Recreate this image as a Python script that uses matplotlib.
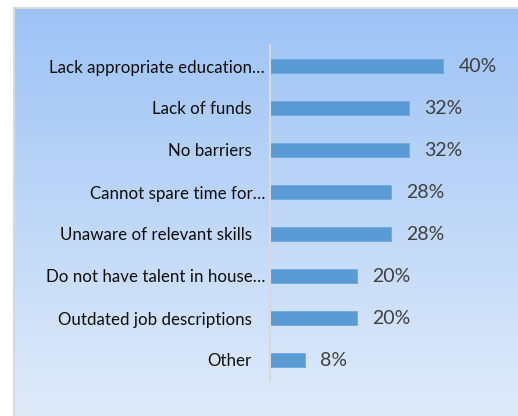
import numpy as np
import matplotlib
matplotlib.use("Agg")
import matplotlib.pyplot as plt
from matplotlib.colors import LinearSegmentedColormap
import matplotlib.transforms as mtransforms

categories = [
    "Lack appropriate education…",
    "Lack of funds",
    "No barriers",
    "Cannot spare time for…",
    "Unaware of relevant skills",
    "Do not have talent in house…",
    "Outdated job descriptions",
    "Other",
]
values = [40, 32, 32, 28, 28, 20, 20, 8]
value_labels = ["40%", "32%", "32%", "28%", "28%", "20%", "20%", "8%"]

W, H = 518, 416
fig = plt.figure(figsize=(W / 100, H / 100), dpi=100)
fig.patch.set_facecolor("white")

# gradient chart area background
bg = fig.add_axes([14 / W, 0, (W - 14) / W, (H - 8) / H])
cmap = LinearSegmentedColormap.from_list("bg", ["#9dc3f5", "#e0ebfa"])
grad = np.linspace(0, 1, 256).reshape(-1, 1)
bg.imshow(grad, aspect="auto", cmap=cmap, extent=[0, 1, 0, 1], origin="upper")
bg.set_xlim(0, 1)
bg.set_ylim(0, 1)
bg.set_xticks([])
bg.set_yticks([])
for s in ["right", "bottom"]:
    bg.spines[s].set_visible(False)
for s in ["left", "top"]:
    bg.spines[s].set_color("#d9d9d9")
    bg.spines[s].set_linewidth(1.5)

ax_left, ax_top, ax_bottom = 270, 45, 381
xmax = 50
px_per = 4.33
ax = fig.add_axes([ax_left / W, (H - ax_bottom) / H, xmax * px_per / W, (ax_bottom - ax_top) / H])
ax.patch.set_alpha(0)

y = np.arange(len(categories))
ax.barh(y, values, height=0.34, color="#5b9bd5", edgecolor="#6fa8dc", linewidth=0.6)
ax.set_ylim(len(categories) - 0.5, -0.5)
ax.set_xlim(0, xmax)
ax.set_xticks([])
ax.set_yticks(y)
ax.set_yticklabels(categories, family="Lato", fontsize=12.2, color="#0d0d0d")
ax.tick_params(axis="y", length=0, pad=13)
for lab in ax.get_yticklabels():
    if lab.get_text().endswith("…"):
        lab.set_transform(lab.get_transform() + mtransforms.ScaledTranslation(13 / 100, 0, fig.dpi_scale_trans))

for s in ["right", "top", "bottom"]:
    ax.spines[s].set_visible(False)
ax.spines["left"].set_color("#d9d9d9")
ax.spines["left"].set_linewidth(1.5)

for yi, v, t in zip(y, values, value_labels):
    ax.annotate(t, xy=(v, yi), xytext=(11, 0), textcoords="offset points",
                ha="left", va="center", family="Lato", fontsize=14, color="#404040")

fig.savefig("out.png", dpi=100)
